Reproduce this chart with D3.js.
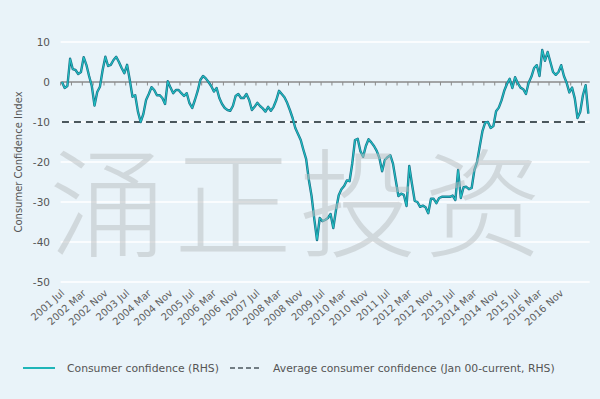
<!DOCTYPE html>
<html>
<head>
<meta charset="utf-8">
<script src="https://cdn.jsdelivr.net/npm/d3@7"></script>
<style>
  body { margin: 0; background: #e9f3f9; }
  text { font-family: "DejaVu Sans", Lato, sans-serif; fill: #555; }
</style>
</head>
<body>
<div id="chart"></div>
<script>

var width = 600;
var height = 399;

// monthly consumer confidence index, Jul 2001 onwards
var confidence = [
  0, -1.5, -1, 5.8, 3.2, 3, 2, 2.5, 6.2, 4.3,
  1.5, -1, -5.9, -2.5, -1.2, 3, 6.3, 4, 4.3, 5.5,
  6.3, 5, 3.5, 2.2, 4.3, 0.5, -3.7, -3.3, -7.4, -10,
  -8, -4.5, -3, -1.3, -2, -3.3, -3.3, -4, -5.5, 0.2,
  -1.4, -2.8, -2, -2, -2.8, -3.5, -2.8, -5.3, -6.5, -4.5,
  -2.3, 0.5, 1.5, 0.9, 0, -1, -2.4, -1.5, -4, -5.5,
  -6.5, -7, -7.2, -6, -3.5, -3, -4, -4, -3, -4.5,
  -7, -6.2, -5.2, -6, -6.6, -7.4, -6.2, -7.2, -6.2, -4.5,
  -2.2, -3, -3.8, -5.2, -7, -9, -11.5, -13, -14.5, -17,
  -19.3, -24.5, -28.5, -34.3, -39.5, -34, -34.8, -34.5, -34, -33,
  -36.5, -32, -28.3, -26.8, -26, -24.6, -24.8, -20.3, -14.5, -14.2,
  -17.3, -18.7, -16, -14.3, -15.1, -16, -17.2, -19, -22.3, -19.5,
  -18.8, -18.3, -20.4, -24.5, -28.5, -27.9, -28.2, -31, -21, -25.5,
  -29.7, -30, -31.2, -30.9, -31.3, -32.8, -29.2, -29.2, -30.3, -29,
  -28.7, -28.7, -28.7, -28.7, -28.4, -29.5, -22, -29, -26.3, -26.2,
  -26.8, -26.5, -22, -20, -16, -12.2, -10.1, -10, -11.5, -11,
  -7.3, -6.4, -4.6, -2.2, -0.5, 0.8, -1.5, 1.2, -0.3, -1.4,
  -1.8, -3, -0.2, 1.3, 3.5, 4.2, 1.5, 8, 5.3, 7.5,
  5, 2.5, 1.8, 2.5, 4.2, 1.5, -0.2, -2.6, -1.4, -4.1,
  -9, -7.5, -3.3, -0.8, -7.9
];
var averageConfidence = -10;

var yTicks = [10, 0, -10, -20, -30, -40, -50];
var xLabels = ["2001 Jul", "2002 Mar", "2002 Nov", "2003 Jul", "2004 Mar", "2004 Nov",
  "2005 Jul", "2006 Mar", "2006 Nov", "2007 Jul", "2008 Mar", "2008 Nov",
  "2009 Jul", "2010 Mar", "2010 Nov", "2011 Jul", "2012 Mar", "2012 Nov",
  "2013 Jul", "2014 Mar", "2014 Nov", "2015 Jul", "2016 Mar", "2016 Nov"];
var labelEvery = 8;
var tickEvery = 4;

var watermark = ["涌", "正", "投", "资"];
var legendItems = ["Consumer confidence (RHS)", "Average consumer confidence (Jan 00-current, RHS)"];

var svg = d3.select("#chart")
  .append("svg")
  .attr("width", width)
  .attr("height", height);

svg.append("rect")
  .attr("width", width)
  .attr("height", height)
  .attr("fill", "#e9f3f9");

var n = confidence.length;
var xScale = d3.scaleLinear()
  .domain([-0.5, n - 0.5])
  .range([60.6, 589.7]);

var yScale = d3.scaleLinear()
  .domain([-50, 10])
  .range([282, 42]);

// white gridlines
svg.selectAll(".grid")
  .data(yTicks.filter(function(d) { return d != 0; }))
  .enter().append("line")
  .attr("class", "grid")
  .attr("x1", xScale(-0.5))
  .attr("x2", xScale(n - 0.5))
  .attr("y1", function(d) { return yScale(d); })
  .attr("y2", function(d) { return yScale(d); })
  .attr("stroke", "#ffffff")
  .attr("stroke-width", 1.6);

// y tick labels
svg.selectAll(".ylab")
  .data(yTicks)
  .enter().append("text")
  .attr("class", "ylab")
  .attr("x", 50)
  .attr("y", function(d) { return yScale(d) + 4; })
  .attr("text-anchor", "end")
  .style("font-size", "10.5px")
  .text(function(d) { return d; });

svg.append("text")
  .attr("transform", "translate(22," + 162 + ") rotate(-90)")
  .attr("text-anchor", "middle")
  .style("font-size", "10px")
  .text("Consumer Confidence Index");

// zero axis with little tick marks
var tickIdx = d3.range(-0.5, n, tickEvery);
svg.append("line")
  .attr("x1", xScale(-0.5))
  .attr("x2", xScale(n - 0.5))
  .attr("y1", yScale(0))
  .attr("y2", yScale(0))
  .attr("stroke", "#8a8a8a")
  .attr("stroke-width", 1.5);

svg.selectAll(".xtick")
  .data(tickIdx)
  .enter().append("line")
  .attr("class", "xtick")
  .attr("x1", function(d) { return xScale(d); })
  .attr("x2", function(d) { return xScale(d); })
  .attr("y1", yScale(0))
  .attr("y2", yScale(0) + 3.5)
  .attr("stroke", "#8a8a8a")
  .attr("stroke-width", 1);

// x labels, every 8 months
svg.selectAll(".xlab")
  .data(xLabels)
  .enter().append("text")
  .attr("class", "xlab")
  .attr("text-anchor", "end")
  .attr("transform", function(d, i) {
    return "translate(" + (xScale(i * labelEvery) + 3) + ",294) rotate(-42)";
  })
  .style("font-size", "10px")
  .style("fill", "#606060")
  .text(function(d) { return d; });

// average line
svg.append("line")
  .attr("x1", xScale(0))
  .attr("x2", xScale(n - 1))
  .attr("y1", yScale(averageConfidence))
  .attr("y2", yScale(averageConfidence))
  .attr("stroke", "#4b575d")
  .attr("stroke-width", 2)
  .attr("stroke-dasharray", "7,5");

var line = d3.line()
  .x(function(d, i) { return xScale(i); })
  .y(function(d) { return yScale(d); });

svg.append("path")
  .datum(confidence)
  .attr("d", line)
  .attr("fill", "none")
  .attr("stroke", "#1c6f88")
  .attr("stroke-width", 2.4)
  .attr("stroke-linejoin", "round");

svg.append("path")
  .datum(confidence)
  .attr("d", line)
  .attr("fill", "none")
  .attr("stroke", "#1fc0c2")
  .attr("stroke-width", 1.1)
  .attr("stroke-linejoin", "round");

// watermark over the plot
svg.selectAll(".wm")
  .data(watermark)
  .enter().append("text")
  .attr("class", "wm")
  .attr("x", function(d, i) { return 108 + i * 125; })
  .attr("y", 196)
  .attr("text-anchor", "middle")
  .attr("dominant-baseline", "central")
  .style("font-family", "'Noto Sans CJK SC', sans-serif")
  .style("font-weight", 300)
  .style("font-size", "118px")
  .style("fill", "#b9bec0")
  .style("opacity", 0.5)
  .text(function(d) { return d; });

// legend
var legendY = 368;
svg.append("line")
  .attr("x1", 23).attr("x2", 55)
  .attr("y1", legendY).attr("y2", legendY)
  .attr("stroke", "#1fb5b8")
  .attr("stroke-width", 2);
svg.append("text")
  .attr("x", 67).attr("y", legendY + 4)
  .style("font-size", "10.8px")
  .text(legendItems[0]);

svg.append("line")
  .attr("x1", 230).attr("x2", 262)
  .attr("y1", legendY).attr("y2", legendY)
  .attr("stroke", "#4b575d")
  .attr("stroke-width", 1.6)
  .attr("stroke-dasharray", "5,3");
svg.append("text")
  .attr("x", 273).attr("y", legendY + 4)
  .style("font-size", "10.8px")
  .text(legendItems[1]);

</script>
</body>
</html>
